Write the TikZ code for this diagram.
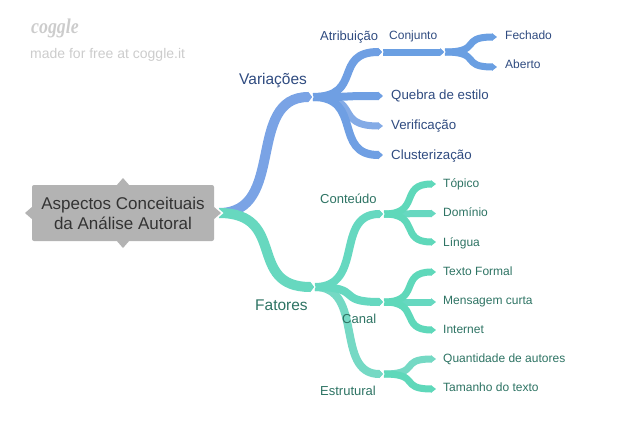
\documentclass[tikz,border=0pt]{standalone}
\usepackage{fontspec}
\setmainfont{Liberation Sans}
\newfontfamily\logofont{Liberation Serif}
\usetikzlibrary{arrows.meta,calc,shapes.geometric}
\definecolor{bluea}{HTML}{7AA3E5}
\definecolor{blueb}{HTML}{6F9FE3}
\definecolor{bluec}{HTML}{6A9FE2}
\definecolor{bluel}{HTML}{84ABE6}
\definecolor{teala}{HTML}{67D8BF}
\definecolor{tealb}{HTML}{66D8C0}
\definecolor{tealc}{HTML}{5FD8BA}
\definecolor{teall}{HTML}{75D9C4}
\definecolor{bluetxt}{HTML}{2F4B80}
\definecolor{tealtxt}{HTML}{2D7363}
\definecolor{rootgrey}{HTML}{B3B3B3}
\definecolor{logogrey}{HTML}{CCCCCC}
\tikzset{
  lab/.style={anchor=base west,inner sep=0pt,font=\fontsize{#1}{#1}\selectfont},
  bt/.style={lab=#1,text=bluetxt},
  tt/.style={lab=#1,text=tealtxt},
  notch/.style={draw=white,line width=1pt,line join=miter},
  rootbox/.style={fill=rootgrey,rounded corners=2pt,minimum width=182pt,minimum height=56pt,inner sep=0pt,align=center,text=black!80,font=\fontsize{17}{20}\selectfont}
}
% from, to, line width, colour
\newcommand{\branch}[4]{%
  \draw[#4,line width=#3pt,-{Triangle[length=5pt,width=#3pt+0.5pt]}]
    (#1) .. controls ($(#1)!0.72!(#2 |- #1)$) and ($(#2)!0.72!(#1 |- #2)$) .. (#2);}
% white chevron at a junction
\newcommand{\chev}[2]{%
  \draw[notch] ($(#1)+(-5,-#2)$) -- (#1) -- ($(#1)+(-5,#2)$);}
\begin{document}
\begin{tikzpicture}[x=1pt,y=-1pt]
\useasboundingbox (0,0) rectangle (630,429);
% junction points
\coordinate (r) at (219,213);
\coordinate (v) at (313,97);
\coordinate (f) at (315,287);
\coordinate (atr) at (383,52);
\coordinate (con) at (445,52);
\coordinate (fec) at (497,37);
\coordinate (abe) at (497,67);
\coordinate (que) at (383,96);
\coordinate (ver) at (383,126);
\coordinate (clu) at (383,155);
\coordinate (cnt) at (384,214);
\coordinate (can) at (384,302);
\coordinate (est) at (384,374);
\coordinate (top) at (436,184);
\coordinate (dom) at (436,213.5);
\coordinate (lin) at (436,242);
\coordinate (tex) at (436,272);
\coordinate (men) at (436,302);
\coordinate (int) at (436,330);
\coordinate (qua) at (436,359);
\coordinate (tam) at (436,389);
% branches
\branch{r}{v}{10}{bluea}
\branch{r}{f}{10}{teala}
\branch{v}{ver}{7}{bluel}
\branch{v}{atr}{8}{blueb}
\branch{v}{que}{8}{blueb}
\branch{v}{clu}{8}{blueb}
\branch{atr}{con}{7}{bluec}
\branch{con}{fec}{7}{bluec}
\branch{con}{abe}{7}{bluec}
\branch{f}{est}{8}{teall}
\branch{f}{can}{8}{tealb}
\branch{f}{cnt}{8}{tealb}
\branch{cnt}{dom}{7}{tealb}
\branch{cnt}{top}{7}{tealc}
\branch{cnt}{lin}{7}{tealc}
\branch{can}{men}{7}{tealb}
\branch{can}{tex}{7}{tealc}
\branch{can}{int}{7}{tealc}
\branch{est}{qua}{7}{teall}
\branch{est}{tam}{7}{tealc}
% chevrons
\chev{v}{7}
\chev{f}{7}
\chev{atr}{6}
\chev{con}{6}
\chev{cnt}{6}
\chev{can}{6}
\chev{est}{6}
% root
\fill[white] (212,203) -- (223.5,213) -- (212,223) -- cycle;
\fill[rootgrey] (123,178) -- (130,186) -- (116,186) -- cycle;
\fill[rootgrey] (123,248) -- (130,240) -- (116,240) -- cycle;
\fill[rootgrey] (25,213) -- (33,206) -- (33,220) -- cycle;
\fill[rootgrey] (221,213) -- (213,206) -- (213,220) -- cycle;
\node[rootbox] (root) at (123,213) {Aspectos Conceituais\\da Análise Autoral};
% labels
\node[bt=15.5] (lv) at (239,84) {Variações};
\node[bt=13] (la) at (320,40) {Atribuição};
\node[bt=12] (lc) at (389,39) {Conjunto};
\node[bt=12] (lfe) at (505,39) {Fechado};
\node[bt=12] (lab) at (505,68) {Aberto};
\node[bt=13.3] (lq) at (391,99) {Quebra de estilo};
\node[bt=13.3] (lve) at (391,129) {Verificação};
\node[bt=13.3] (lcl) at (391,159) {Clusterização};
\node[tt=15.5] (lf) at (255,310) {Fatores};
\node[tt=13] (lco) at (320,203) {Conteúdo};
\node[tt=13] (lcn) at (342,323) {Canal};
\node[tt=13] (les) at (320,395.5) {Estrutural};
\node[tt=12] (ltp) at (443,187) {Tópico};
\node[tt=12] (ldo) at (443,216) {Domínio};
\node[tt=12] (lli) at (443,246) {Língua};
\node[tt=12] (ltf) at (443,275) {Texto Formal};
\node[tt=12] (lme) at (443,304) {Mensagem curta};
\node[tt=12] (lin2) at (443,333) {Internet};
\node[tt=12] (lqu) at (443,362) {Quantidade de autores};
\node[tt=12] (lta) at (443,391) {Tamanho do texto};
% logo
\node[lab=21,text=logogrey,font=\logofont\itshape\bfseries\fontsize{21}{21}\selectfont,xscale=0.85] (logo) at (31,33) {coggle};
\node[lab=14,text=logogrey] (made) at (30,58) {made for free at coggle.it};
\end{tikzpicture}
\end{document}
